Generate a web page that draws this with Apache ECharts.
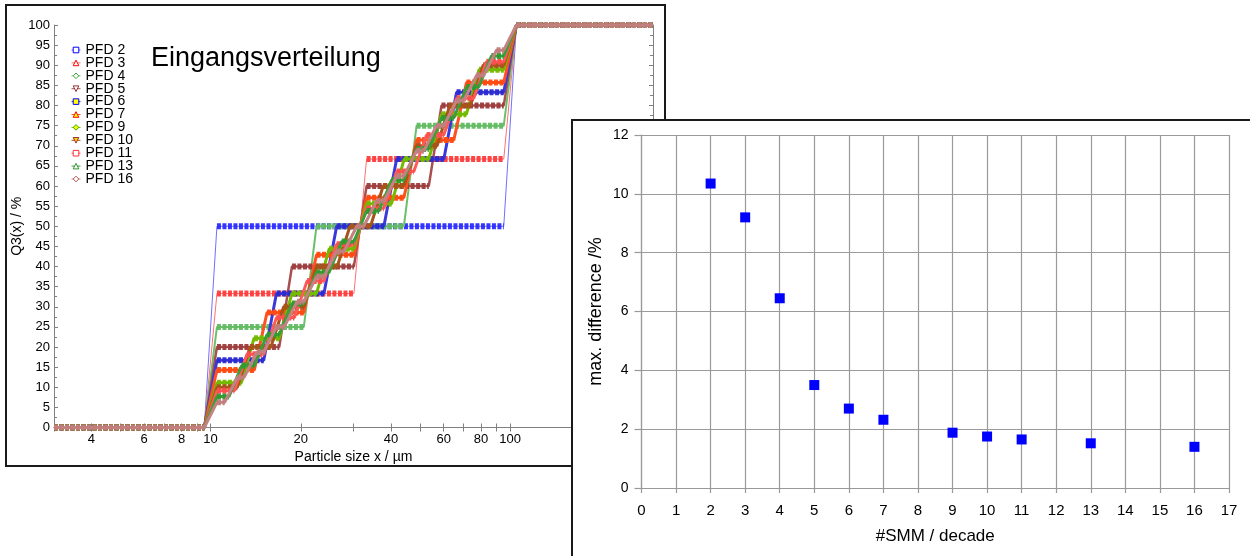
<!DOCTYPE html>
<html>
<head>
<meta charset="utf-8">
<script src="https://cdn.jsdelivr.net/npm/echarts@6/dist/echarts.min.js"></script>
<style>
  html, body { margin: 0; padding: 0; background: #ffffff; }
  #chart { width: 1250px; height: 556px; }
</style>
</head>
<body>
<div id="chart"></div>
<script>
// ---- Left panel: Q3(x) of the input distribution, discretised into n classes per decade ----
// Step positions (particle size in µm where Q3 jumps) and the plateau reached after each jump (%).
const stepsPFD2  = [10, 100];
const levelsPFD2 = [50, 100];
const stepsPFD3  = [10, 31.6, 100];
const levelsPFD3 = [33.3, 66.7, 100];
const stepsPFD4  = [10, 21.5, 46.4, 100];
const levelsPFD4 = [25, 50, 75, 100];
const stepsPFD5  = [10, 17.8, 31.6, 56.2, 100];
const levelsPFD5 = [20, 40, 60, 80, 100];
const stepsPFD6  = [10, 15.8, 25.1, 39.8, 63.1, 100];
const levelsPFD6 = [16.7, 33.3, 50, 66.7, 83.3, 100];
const stepsPFD7  = [10, 14.7, 21.5, 31.6, 46.4, 68.1, 100];
const levelsPFD7 = [14.3, 28.6, 42.9, 57.1, 71.4, 85.7, 100];
const stepsPFD9  = [10, 13.3, 17.8, 23.7, 31.6, 42.2, 56.2, 75.0, 100];
const levelsPFD9 = [11.1, 22.2, 33.3, 44.4, 55.6, 66.7, 77.8, 88.9, 100];
const stepsPFD10  = [10, 12.9, 16.7, 21.5, 27.8, 35.9, 46.4, 59.9, 77.4, 100];
const levelsPFD10 = [10, 20, 30, 40, 50, 60, 70, 80, 90, 100];
const stepsPFD11  = [10, 12.6, 15.8, 20.0, 25.1, 31.6, 39.8, 50.1, 63.1, 79.4, 100];
const levelsPFD11 = [9.1, 18.2, 27.3, 36.4, 45.5, 54.5, 63.6, 72.7, 81.8, 90.9, 100];
const stepsPFD13  = [10, 12.1, 14.7, 17.8, 21.5, 26.1, 31.6, 38.3, 46.4, 56.2, 68.1, 82.5, 100];
const levelsPFD13 = [7.7, 15.4, 23.1, 30.8, 38.5, 46.2, 53.8, 61.5, 69.2, 76.9, 84.6, 92.3, 100];
const stepsPFD16  = [10, 11.7, 13.6, 15.8, 18.5, 21.5, 25.1, 29.3, 34.1, 39.8, 46.4, 54.1, 63.1, 73.6, 85.8, 100];
const levelsPFD16 = [6.25, 12.5, 18.75, 25, 31.25, 37.5, 43.75, 50, 56.25, 62.5, 68.75, 75, 81.25, 87.5, 93.75, 100];

const pfdNames = ['PFD 2', 'PFD 3', 'PFD 4', 'PFD 5', 'PFD 6', 'PFD 7', 'PFD 9', 'PFD 10', 'PFD 11', 'PFD 13', 'PFD 16'];
const pfdSteps = [stepsPFD2, stepsPFD3, stepsPFD4, stepsPFD5, stepsPFD6, stepsPFD7, stepsPFD9, stepsPFD10, stepsPFD11, stepsPFD13, stepsPFD16];
const pfdLevels = [levelsPFD2, levelsPFD3, levelsPFD4, levelsPFD5, levelsPFD6, levelsPFD7, levelsPFD9, levelsPFD10, levelsPFD11, levelsPFD13, levelsPFD16];

// size range of the left x axis and its tick / label positions
const sizeRange = [3, 300];
const sizeTicks = [3, 4, 5, 6, 7, 8, 9, 10, 20, 30, 40, 50, 60, 70, 80, 90, 100, 200, 300];
const sizeLabels = [4, 6, 8, 10, 20, 40, 60, 80, 100, 200];

// ---- Right panel: maximum difference vs. number of SMM per decade ----
const smmPerDecade  = [2, 3, 4, 5, 6, 7, 9, 10, 11, 13, 16];
const maxDifference = [10.35, 9.2, 6.45, 3.5, 2.7, 2.32, 1.88, 1.75, 1.65, 1.52, 1.4];

// marker / colour styles for each curve
const styles = [
  { symbol: 'rect',     rot: 0,   fill: '#ffffff', stroke: '#0000ff', thin: '#7070ff', band: '#2b2bff', w: 1 },
  { symbol: 'triangle', rot: 0,   fill: '#ffffff', stroke: '#ff0000', thin: '#ff7070', band: '#ff3a3a', w: 1 },
  { symbol: 'diamond',  rot: 0,   fill: '#ffffff', stroke: '#3caa3c', thin: '#6cc06c', band: '#62bb62', w: 2 },
  { symbol: 'triangle', rot: 180, fill: '#ffffff', stroke: '#993333', thin: '#a85050', band: '#9c3c3c', w: 2.5 },
  { symbol: 'rect',     rot: 0,   fill: '#ffff00', stroke: '#0000ff', thin: '#3a3ad8', band: '#2a2ad0', w: 3 },
  { symbol: 'triangle', rot: 0,   fill: '#ffff00', stroke: '#ff0000', thin: '#ff5020', band: '#ff4a10', w: 3 },
  { symbol: 'diamond',  rot: 0,   fill: '#ffff00', stroke: '#33aa00', thin: '#74b800', band: '#74bb00', w: 3 },
  { symbol: 'triangle', rot: 180, fill: '#ffcc00', stroke: '#993333', thin: '#a65418', band: '#a65418', w: 3 },
  { symbol: 'rect',     rot: 0,   fill: '#ffffff', stroke: '#ff3333', thin: '#ff5a5a', band: '#ff4c4c', w: 3 },
  { symbol: 'triangle', rot: 0,   fill: '#ffffff', stroke: '#2e962e', thin: '#3a9e3a', band: '#2f9a2f', w: 3 },
  { symbol: 'diamond',  rot: 0,   fill: '#ffffff', stroke: '#aa5555', thin: '#c48282', band: '#c27c7c', w: 3 }
];

const RISE = 1.05; // half-width factor of each smoothed jump on the log size axis
const FONT = "'Liberation Sans', Arial, sans-serif";

// full path of one curve: flat at 0, a jump at each step, flat at 100
function curvePath(steps, levels) {
  const pts = [[sizeRange[0], 0]];
  let prev = 0;
  steps.forEach((x, i) => {
    pts.push([x / RISE, prev]);
    pts.push([x * RISE, levels[i]]);
    prev = levels[i];
  });
  pts.push([sizeRange[1], prev]);
  return pts;
}
// only the plateaus of a curve (broken between them)
function plateauPath(steps, levels) {
  const pts = [];
  let startX = sizeRange[0], prev = 0;
  steps.forEach((x, i) => {
    pts.push([startX, prev]);
    pts.push([x / RISE, prev]);
    pts.push(['-', '-']);
    startX = x * RISE;
    prev = levels[i];
  });
  pts.push([startX, prev]);
  pts.push([sizeRange[1], prev]);
  return pts;
}

const leftSeries = [];
pfdNames.forEach((name, i) => {
  const s = styles[i];
  leftSeries.push({
    name: name, type: 'line', xAxisIndex: 0, yAxisIndex: 0,
    data: curvePath(pfdSteps[i], pfdLevels[i]),
    showSymbol: false, symbol: s.symbol, symbolRotate: s.rot,
    itemStyle: { color: s.fill, borderColor: s.stroke, borderWidth: 1 },
    lineStyle: { color: s.thin, width: s.w },
    z: 2, silent: true
  });
  leftSeries.push({
    name: name, type: 'line', xAxisIndex: 0, yAxisIndex: 0,
    data: plateauPath(pfdSteps[i], pfdLevels[i]),
    showSymbol: false, connectNulls: false, symbol: s.symbol, symbolRotate: s.rot,
    itemStyle: { color: s.fill, borderColor: s.stroke, borderWidth: 1 },
    lineStyle: { color: s.band, width: 6, type: [4, 1.5], opacity: 0.95 },
    z: 2, silent: true
  });
});

const legendItems = pfdNames.map((name, i) => ({
  name: name,
  itemStyle: { color: styles[i].fill, borderColor: styles[i].stroke, borderWidth: 1 },
  lineStyle: { color: styles[i].thin, width: 1, type: 'solid', opacity: 1 }
}));

const gray = '#808080';
const chart = echarts.init(document.getElementById('chart'), null, { renderer: 'canvas' });

chart.setOption({
  animation: false,
  backgroundColor: '#ffffff',
  textStyle: { fontFamily: FONT },
  grid: [
    { left: 54, top: 25, width: 599, height: 402.5 },
    { left: 641.5, top: 135, width: 587.5, height: 353 }
  ],
  legend: {
    orient: 'vertical', left: 71, top: 43, padding: 0,
    itemWidth: 9, itemHeight: 7, itemGap: -1.1,
    data: legendItems,
    textStyle: { fontFamily: FONT, fontSize: 14, color: '#000', lineHeight: 12 },
    selectedMode: false
  },
  xAxis: [
    {
      type: 'log', gridIndex: 0, position: 'bottom', logBase: 10,
      min: sizeRange[0], max: sizeRange[1],
      name: 'Particle size x / µm', nameLocation: 'middle', nameGap: 21,
      nameTextStyle: { fontFamily: FONT, fontSize: 14, color: '#000' },
      axisLine: { lineStyle: { color: gray, width: 1 } },
      axisTick: { show: true, inside: true, length: 4, customValues: sizeTicks, lineStyle: { color: gray } },
      axisLabel: { customValues: sizeLabels, fontFamily: FONT, fontSize: 13, color: '#000', margin: 5, formatter: v => String(Math.round(v)) },
      splitLine: { show: false }, minorTick: { show: false }, z: 0
    },
    {
      type: 'log', gridIndex: 0, position: 'top', logBase: 10,
      min: sizeRange[0], max: sizeRange[1],
      axisLine: { lineStyle: { color: gray, width: 1 } },
      axisTick: { show: true, inside: true, length: 4, customValues: sizeTicks, lineStyle: { color: gray } },
      axisLabel: { show: false },
      splitLine: { show: false }, z: 0
    },
    {
      type: 'value', gridIndex: 1, min: 0, max: 17, interval: 1,
      name: '#SMM / decade', nameLocation: 'middle', nameGap: 40,
      nameTextStyle: { fontFamily: FONT, fontSize: 17, color: '#000' },
      axisLine: { lineStyle: { color: '#999', width: 1.2 } },
      axisTick: { show: true, inside: false, length: 5, lineStyle: { color: '#999', width: 1.2 } },
      axisLabel: { fontFamily: FONT, fontSize: 15, color: '#000', margin: 15 },
      splitLine: { show: true, lineStyle: { color: '#9a9a9a', width: 1.2 } },
      z: 21
    }
  ],
  yAxis: [
    {
      type: 'value', gridIndex: 0, position: 'left', min: 0, max: 100, interval: 5,
      name: 'Q3(x) / %', nameLocation: 'middle', nameGap: 27,
      nameTextStyle: { fontFamily: FONT, fontSize: 14, color: '#000' },
      axisLine: { show: true, lineStyle: { color: gray, width: 1 } },
      axisTick: { show: true, inside: true, length: 4, lineStyle: { color: gray } },
      minorTick: { show: true, splitNumber: 2, length: 3, lineStyle: { color: gray } },
      axisLabel: { fontFamily: FONT, fontSize: 13, color: '#000', margin: 4 },
      splitLine: { show: false }, z: 0
    },
    {
      type: 'value', gridIndex: 0, position: 'right', min: 0, max: 100, interval: 5,
      axisLine: { show: true, lineStyle: { color: gray, width: 1 } },
      axisTick: { show: true, inside: true, length: 4, lineStyle: { color: gray } },
      minorTick: { show: true, splitNumber: 2, length: 3, lineStyle: { color: gray } },
      axisLabel: { show: false },
      splitLine: { show: false }, z: 0
    },
    {
      type: 'value', gridIndex: 1, min: 0, max: 12, interval: 2,
      name: 'max. difference /%', nameLocation: 'middle', nameGap: 36,
      nameTextStyle: { fontFamily: FONT, fontSize: 18, color: '#000' },
      axisLine: { show: true, lineStyle: { color: '#999', width: 1.2 } },
      axisTick: { show: true, inside: false, length: 7, lineStyle: { color: '#999', width: 1.2 } },
      axisLabel: { fontFamily: FONT, fontSize: 14, color: '#000', margin: 13 },
      splitLine: { show: true, lineStyle: { color: '#9a9a9a', width: 1.2 } },
      z: 21
    }
  ],
  graphic: [
    // frame of the left panel
    { type: 'rect', z: 1, silent: true,
      shape: { x: 6, y: 5, width: 659, height: 461 },
      style: { fill: 'none', stroke: '#1a1a1a', lineWidth: 2 } },
    { type: 'text', z: 5, silent: true, x: 151, y: 59,
      style: { text: 'Eingangsverteilung', font: "27px 'Liberation Sans', Arial, sans-serif", fill: '#000', textVerticalAlign: 'middle' } },
    // right panel sits on top of the left one
    { type: 'rect', z: 20, silent: true,
      shape: { x: 572, y: 120, width: 700, height: 460 },
      style: { fill: '#ffffff', stroke: '#1a1a1a', lineWidth: 2 } }
  ],
  series: leftSeries.concat([
    {
      name: 'max. difference', type: 'scatter', xAxisIndex: 2, yAxisIndex: 2,
      data: smmPerDecade.map((n, i) => [n, maxDifference[i]]),
      symbol: 'rect', symbolSize: 10,
      itemStyle: { color: '#0000ff', opacity: 1 },
      z: 22, silent: true
    }
  ])
});
</script>
</body>
</html>
